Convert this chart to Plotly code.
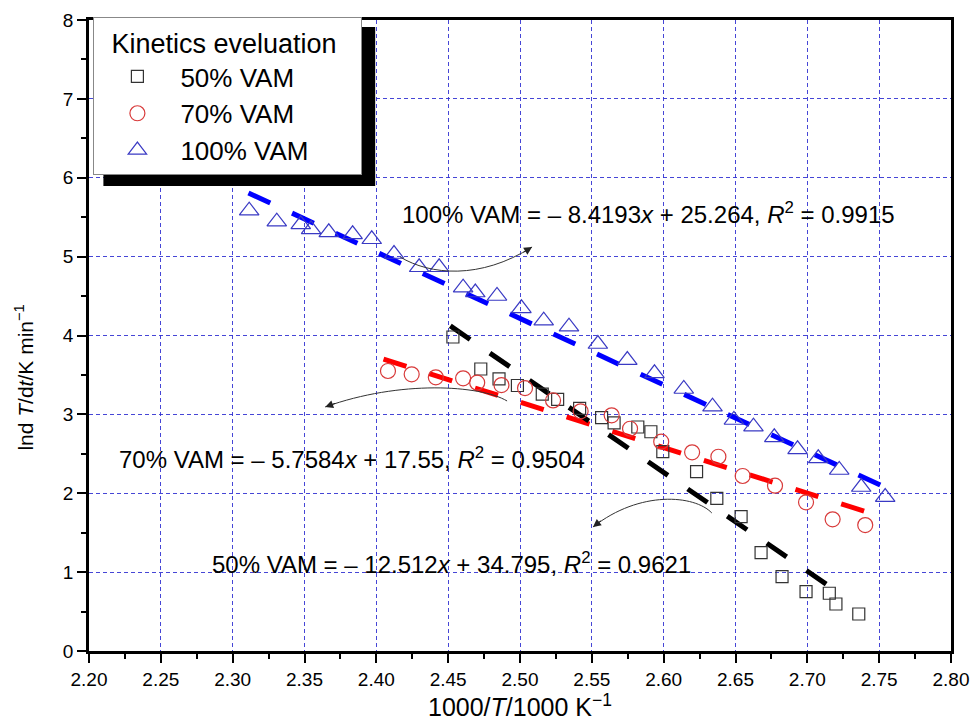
import plotly.graph_objects as go
import numpy as np

# ---------------- data ----------------
x50 = [2.4533, 2.4727, 2.4854, 2.4982, 2.5155, 2.5262, 2.5415, 2.5568, 2.5655, 2.5820, 2.5911,
       2.5994, 2.6229, 2.6370, 2.6539, 2.6678, 2.6824, 2.6991, 2.7153, 2.7199, 2.7358]
y50 = [3.981, 3.575, 3.451, 3.366, 3.258, 3.189, 3.077, 2.960, 2.891, 2.840, 2.780,
       2.527, 2.273, 1.936, 1.703, 1.246, 0.942, 0.752, 0.732, 0.596, 0.469]

x70 = [2.4081, 2.4246, 2.4414, 2.4604, 2.4702, 2.4871, 2.5035, 2.5230, 2.5422, 2.5638,
       2.5766, 2.5983, 2.6198, 2.6381, 2.6550, 2.6775, 2.6991, 2.7176, 2.7403]
y70 = [3.550, 3.508, 3.470, 3.457, 3.402, 3.372, 3.334, 3.177, 3.039, 2.988,
       2.818, 2.654, 2.519, 2.463, 2.219, 2.096, 1.885, 1.670, 1.597]

x100 = [2.3115, 2.3307, 2.3474, 2.3546, 2.3669, 2.3835, 2.3968, 2.4123, 2.4298, 2.4437,
        2.4604, 2.4689, 2.4840, 2.5010, 2.5165, 2.5341, 2.5542, 2.5747, 2.5936, 2.6140,
        2.6340, 2.6489, 2.6625, 2.6770, 2.6932, 2.7076, 2.7222, 2.7375, 2.7542]
y100 = [5.582, 5.443, 5.410, 5.346, 5.308, 5.283, 5.220, 5.033, 4.865, 4.865,
        4.606, 4.545, 4.501, 4.345, 4.188, 4.112, 3.892, 3.689, 3.521, 3.322,
        3.097, 2.929, 2.844, 2.709, 2.557, 2.443, 2.295, 2.079, 1.952]

# linear fits (slope, intercept, x-range)
fit50 = (-12.512, 34.795, [2.4515, 2.7200])
fit70 = (-5.7584, 17.55, [2.4050, 2.7450])
fit100 = (-8.4193, 25.264, [2.3110, 2.7600])

names = ["50% VAM", "70% VAM", "100% VAM"]
eq_texts = [
    "50% VAM = \u2013 12.512<i>x</i> + 34.795, <i>R</i><sup>2</sup> = 0.9621",
    "70% VAM = \u2013 5.7584<i>x</i> + 17.55, <i>R</i><sup>2</sup> = 0.9504",
    "100% VAM = \u2013 8.4193<i>x</i> + 25.264, <i>R</i><sup>2</sup> = 0.9915",
]
x_ticks = [round(2.20 + 0.05 * i, 2) for i in range(13)]
y_ticks = list(range(0, 9))

FONT = "Liberation Sans, Arial, sans-serif"

fig = go.Figure()

def fit_line(fit):
    m, b, xr = fit
    xs = np.array(xr)
    return xs, m * xs + b

# fit lines (thick dashed)
for fit, col in [(fit100, "#0000ff"), (fit70, "#ff0000"), (fit50, "#000000")]:
    xs, ys = fit_line(fit)
    fig.add_trace(go.Scatter(x=xs, y=ys, mode="lines", showlegend=False,
                             line=dict(color=col, width=5, dash="24px,24px"),
                             hoverinfo="skip"))

# markers
fig.add_trace(go.Scatter(x=x50, y=y50, mode="markers", name=names[0],
                         marker=dict(symbol="square-open", size=12, color="#333333",
                                     line=dict(width=1.2))))
fig.add_trace(go.Scatter(x=x70, y=y70, mode="markers", name=names[1],
                         marker=dict(symbol="circle-open", size=15, color="#d83a3a",
                                     line=dict(width=1.2))))
fig.add_trace(go.Scatter(x=x100, y=y100, mode="markers", name=names[2],
                         marker=dict(symbol="triangle-up-open", size=17, color="#3a3ac4",
                                     line=dict(width=1.2))))

# equation annotations
eq_pos = [(2.2844, 1.116), (2.2197, 2.447), (2.4164, 5.553)]
for (ex, ey), t in zip(eq_pos, eq_texts):
    fig.add_annotation(x=ex, y=ey, xref="x", yref="y", text=t, showarrow=False,
                       xanchor="left", yanchor="middle",
                       font=dict(family=FONT, size=24, color="black"))

# curved arrows: bezier path + arrowhead
arrows = [
    # P0, C1, C2, P3, tail
    ((2.4166, 4.995), (2.4374, 4.767), (2.4722, 4.704), (2.5084, 5.122), (2.5014, 5.042)),
    ((2.4910, 3.170), (2.4722, 3.372), (2.4166, 3.436), (2.3644, 3.094), (2.3723, 3.146)),
    ((2.6335, 1.750), (2.6217, 1.978), (2.5835, 2.041), (2.5508, 1.572), (2.5573, 1.666)),
]
for p0, c1, c2, p3, tail in arrows:
    path = f"M {p0[0]},{p0[1]} C {c1[0]},{c1[1]} {c2[0]},{c2[1]} {p3[0]},{p3[1]}"
    fig.add_shape(type="path", path=path, xref="x", yref="y",
                  line=dict(color="#333333", width=1), layer="above")
    fig.add_annotation(x=p3[0], y=p3[1], ax=tail[0], ay=tail[1], xref="x", yref="y",
                       axref="x", ayref="y", text="", showarrow=True, arrowhead=2,
                       arrowsize=1.6, arrowwidth=1, arrowcolor="#222222", standoff=0)

# legend shadow
fig.add_shape(type="rect", xref="paper", yref="paper", x0=0.0167, x1=0.3320,
              y0=0.7369, y1=0.9889, fillcolor="black", line=dict(width=0), layer="above")

# y axis title (placed as rotated text, as in the reference)
fig.add_annotation(x=-0.0749, y=0.434, xref="paper", yref="paper",
                   text="lnd <i>T</i>/d<i>t</i>/K min<sup>\u22121</sup>", textangle=-90,
                   showarrow=False, xanchor="center", yanchor="middle",
                   font=dict(family=FONT, size=21, color="black"))

grid_col = "rgba(50,50,210,0.9)"
fig.update_xaxes(range=[2.20, 2.80], tickvals=x_ticks, ticktext=[f"{v:.2f}" for v in x_ticks],
                 showgrid=True, gridcolor=grid_col, griddash="4px,3px", gridwidth=1,
                 showline=True, linecolor="black", linewidth=2.5, mirror=True,
                 ticks="outside", ticklen=9, tickwidth=1.5, tickcolor="black",
                 minor=dict(dtick=0.025, tick0=2.2, ticks="outside", ticklen=5, tickwidth=1.5,
                            tickcolor="black", showgrid=False),
                 tickfont=dict(family=FONT, size=19, color="black"),
                 title=dict(text="1000/<i>T</i>/1000 K<sup>\u22121</sup>", standoff=6,
                            font=dict(family=FONT, size=25, color="black")),
                 zeroline=False, automargin=False)
fig.update_yaxes(range=[0, 8], tickvals=y_ticks,
                 showgrid=True, gridcolor=grid_col, griddash="4px,3px", gridwidth=1,
                 showline=True, linecolor="black", linewidth=2.5, mirror=True,
                 ticks="outside", ticklen=9, tickwidth=1.5, tickcolor="black",
                 minor=dict(dtick=0.5, tick0=0, ticks="outside", ticklen=5, tickwidth=1.5,
                            tickcolor="black", showgrid=False),
                 tickfont=dict(family=FONT, size=19, color="black"),
                 zeroline=False, automargin=False)

# page body has an 8px margin, so the figure is offset by 8px; margins compensate
fig.update_layout(
    width=979, height=723,
    margin=dict(l=81, r=36, t=12, b=80, autoexpand=False),
    plot_bgcolor="white", paper_bgcolor="white",
    font=dict(family=FONT, color="black"),
    legend=dict(x=0.0051, y=1.0048, xanchor="left", yanchor="top",
                bgcolor="white", bordercolor="#888888", borderwidth=1,
                itemwidth=76, font=dict(family=FONT, size=26, color="black"),
                title=dict(text="&nbsp;&nbsp;Kinetics eveluation&nbsp;&nbsp;&nbsp;",
                           font=dict(family=FONT, size=27, color="black")),
                tracegroupgap=0),
)

fig.write_html("out.html")
